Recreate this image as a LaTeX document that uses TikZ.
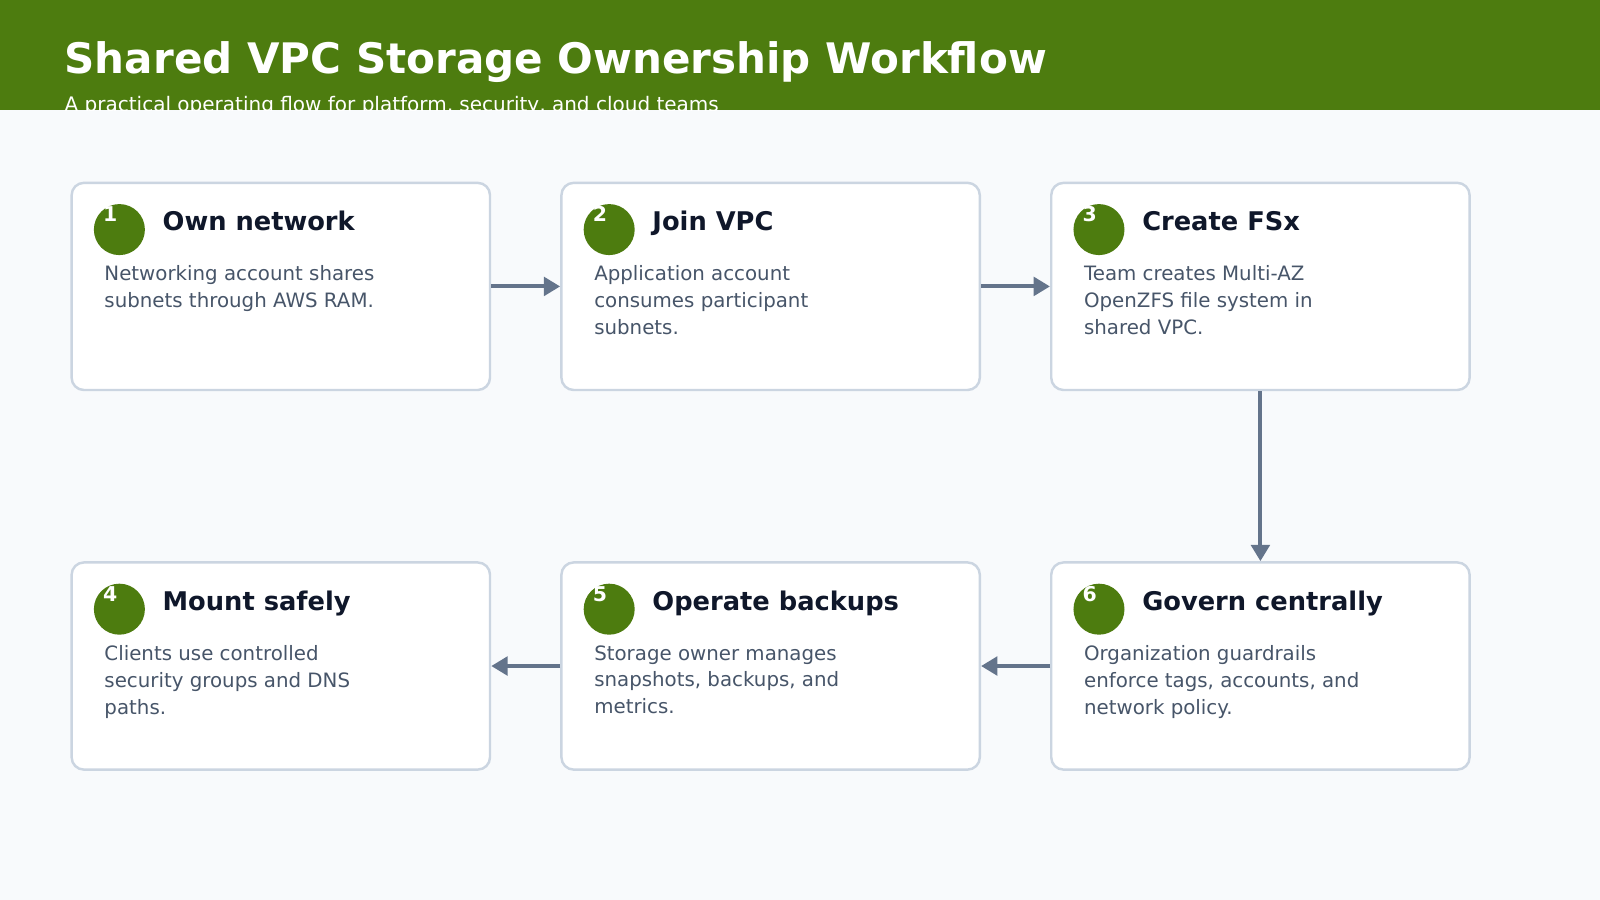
\documentclass[tikz,border=0pt]{standalone}
\usepackage{fontspec}
\setmainfont{DejaVu Sans}
\usetikzlibrary{arrows.meta}
\definecolor{hdr}{HTML}{4D7C0F}
\definecolor{bg}{HTML}{F8FAFC}
\definecolor{bd}{HTML}{CBD5E1}
\definecolor{tt}{HTML}{0F172A}
\definecolor{bt}{HTML}{475569}
\definecolor{ar}{HTML}{64748B}
\tikzset{
 card/.style={draw=bd,line width=1.2pt,fill=white,rounded corners=6pt,minimum width=205pt,minimum height=101.5pt,inner sep=0pt},
 badge/.style={circle,fill=hdr,minimum size=25pt,inner sep=0pt},
 num/.style={text=white,font=\bfseries\fontsize{10}{12}\selectfont,inner sep=0pt},
 ttl/.style={anchor=base west,text=tt,font=\bfseries\fontsize{12.6}{15}\selectfont,inner sep=0pt},
 body/.style={anchor=north west,text=bt,font=\fontsize{9.7}{13.2}\selectfont,align=left,inner sep=0pt},
 flow/.style={draw=ar,line width=2pt,-{Triangle[length=8pt,width=9pt]}}
}
\begin{document}
\begin{tikzpicture}[x=0.5pt,y=-0.5pt]
\fill[bg] (0,0) rectangle (1568,882);
\useasboundingbox (0,0) rectangle (1568,882);
\fill[hdr] (0,0) rectangle (1568,108);
\node[anchor=base west,text=white,font=\bfseries\fontsize{20.6}{25}\selectfont,inner sep=0pt] (title) at (63,72) {Shared VPC Storage Ownership Workflow};
\begin{scope}
\clip (0,0) rectangle (1568,108);
\node[anchor=base west,text=white,font=\fontsize{9.8}{12}\selectfont,inner sep=0pt] (sub) at (63,109) {A practical operating flow for platform, security, and cloud teams};
\end{scope}
\foreach \i/\x/\y/\t/\b in {
 1/69/178/Own network/{Networking account shares\\subnets through AWS RAM.},
 2/549/178/Join VPC/{Application account\\consumes participant\\subnets.},
 3/1029/178/Create FSx/{Team creates Multi-AZ\\OpenZFS file system in\\shared VPC.},
 4/69/550/Mount safely/{Clients use controlled\\security groups and DNS\\paths.},
 5/549/550/Operate backups/{Storage owner manages\\snapshots, backups, and\\metrics.},
 6/1029/550/Govern centrally/{Organization guardrails\\enforce tags, accounts, and\\network policy.}}{
 \node[card,anchor=north west] (c\i) at (\x,\y) {};
 \node[badge] (b\i) at (\x+48,\y+47) {};
 \node[num] (n\i) at (\x+39,\y+32) {\i};
 \node[ttl] (t\i) at (\x+90,\y+48) {\t};
 \node[body] (d\i) at (\x+33,\y+82) {\b};
}
\draw[flow] (c1.east) -- (c2.west);
\draw[flow] (c2.east) -- (c3.west);
\draw[flow] (c3.south) -- (c6.north);
\draw[flow] (c6.west) -- (c5.east);
\draw[flow] (c5.west) -- (c4.east);
\end{tikzpicture}
\end{document}
